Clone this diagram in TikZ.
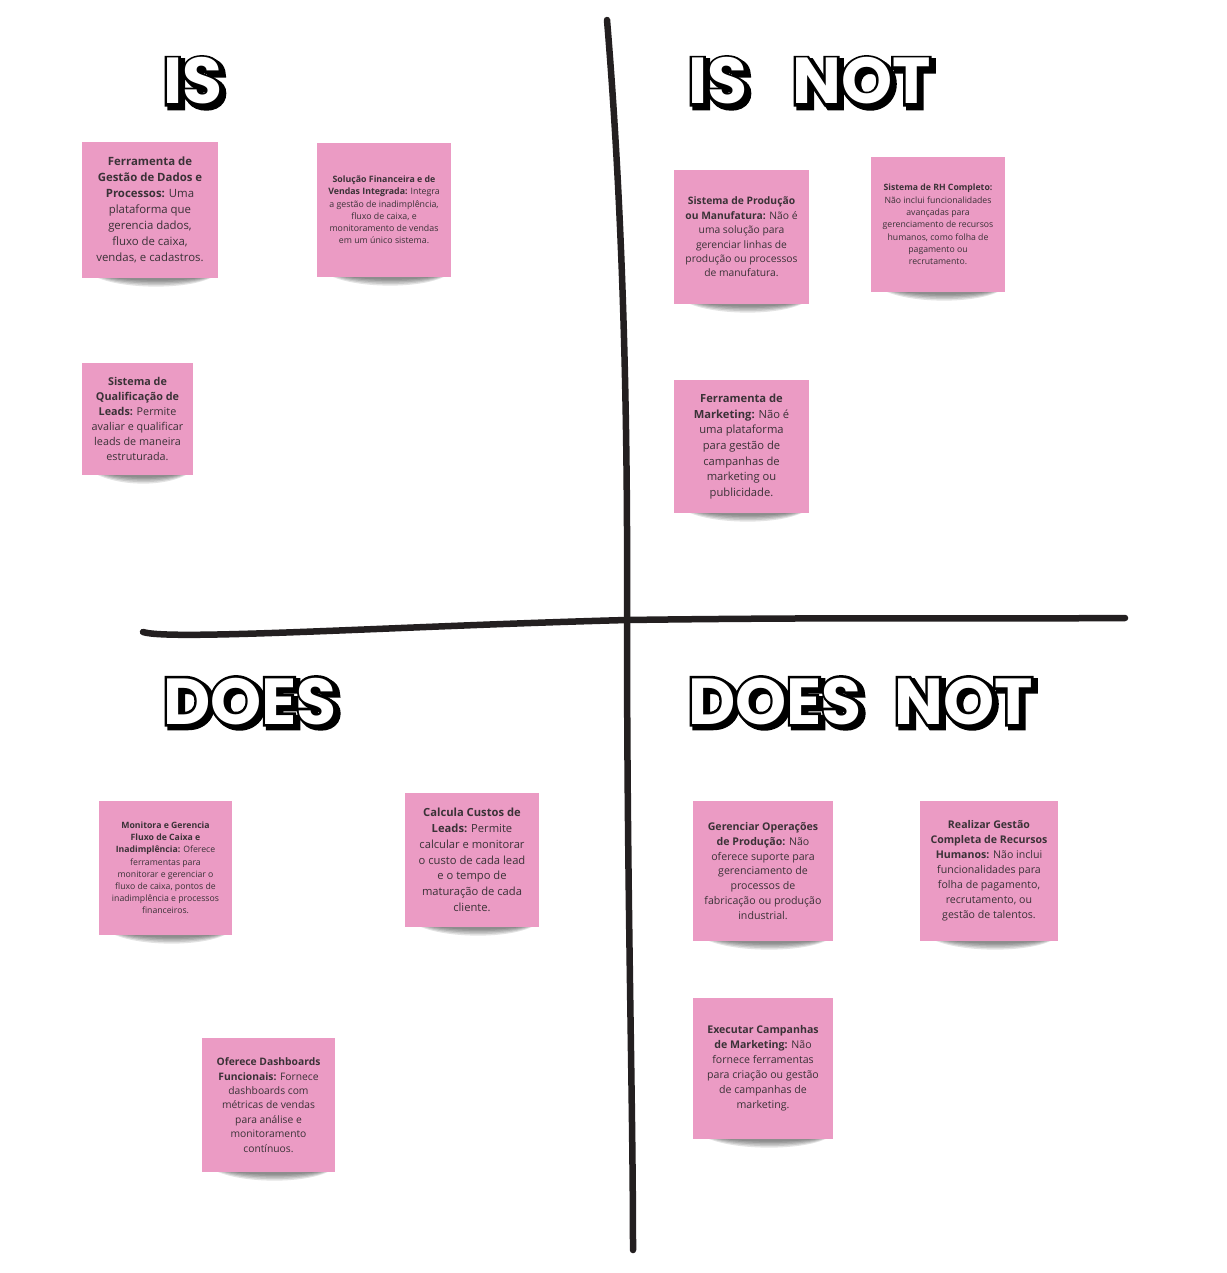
\documentclass[tikz,border=0pt]{standalone}
\usepackage{fontspec}
\newfontfamily\notefont{Open Sans}
\newfontfamily\headfont{Poppins}
\newfontfamily\headoutline{Poppins}[FakeBold=8]
\newfontfamily\headshadow{Poppins}[FakeBold=10]
\definecolor{notepink}{RGB}{235,155,196}
\definecolor{inkline}{RGB}{35,31,32}
\definecolor{notetext}{RGB}{58,50,55}
\tikzset{
  note/.style={fill=notepink, inner sep=0pt, align=center, text=notetext},
  headst/.style={anchor=base west, inner sep=0pt},
  bigline/.style={draw=inkline, line width=6.5pt, line cap=round}
}
\newcommand{\sticky}[8]{%
  \foreach \k in {0,...,4} {
    \fill[black,opacity=0.11] ({#2+10+2*\k},{#5-3}) .. controls ({#2+35},{#5+12-2*\k}) and ({#4-25},{#5+13-2*\k}) .. ({#4-2-\k},{#5-3}) -- cycle;
  }
  \node[note, minimum width={#4-#2}, minimum height={#5-#3}, font=\notefont\fontsize{#6}{#7}\selectfont] (#1) at ({(#2+#4)/2},{(#3+#5)/2}) {#8};
}
\newcommand{\heading}[4]{%
  \node[headst, text=black, font=\headshadow\bfseries\fontsize{65}{65}\selectfont] at ({#2+3.5},{#3+3}) {#4};
  \node[headst, text=black, font=\headoutline\bfseries\fontsize{65}{65}\selectfont] at (#2,#3) {#4};
  \node[headst, text=white, font=\headfont\bfseries\fontsize{65}{65}\selectfont] (#1) at (#2,#3) {#4};
}
\begin{document}
\begin{tikzpicture}[x=1pt,y=-1pt]
\fill[white] (0,0) rectangle (1226,1273);
\useasboundingbox (0,0) rectangle (1226,1273);

% axes
\coordinate (vt) at (607,20);
\coordinate (vm) at (627,620);
\coordinate (vb) at (633,1250);
\coordinate (hl) at (143,632);
\coordinate (hr) at (1125,618);
\draw[bigline] (vt) .. controls (622,200) and (628,400) .. (vm) .. controls (627,900) and (633,1100) .. (vb);
\draw[bigline] (hl) .. controls (170,641) and (400,626) .. (vm) .. controls (850,617) and (1000,619) .. (hr);

% headings
\heading{h1}{163}{104}{IS}
\heading{h2}{688}{104}{IS}
\heading{h3}{792}{104}{NOT}
\heading{h4}{163}{724}{DOES}
\heading{h5}{688}{724}{DOES}
\heading{h6}{894}{724}{NOT}

% IS
\sticky{n1}{82}{142}{218}{278}{11.4}{15.9}{\textbf{Ferramenta de}\\ \textbf{Gestão de Dados e}\\ \textbf{Processos:} Uma\\ plataforma que\\ gerencia dados,\\ fluxo de caixa,\\ vendas, e cadastros.}
\sticky{n2}{317}{143}{451}{277}{8.8}{12.2}{\textbf{Solução Financeira e de}\\ \textbf{Vendas Integrada:} Integra\\ a gestão de inadimplência,\\ fluxo de caixa, e\\ monitoramento de vendas\\ em um único sistema.}
\sticky{n3}{82}{363}{193}{475}{10.8}{15}{\textbf{Sistema de}\\ \textbf{Qualificação de}\\ \textbf{Leads:} Permite\\ avaliar e qualificar\\ leads de maneira\\ estruturada.}

% IS NOT
\sticky{n4}{674}{170}{809}{304}{10.3}{14.4}{\textbf{Sistema de Produção}\\ \textbf{ou Manufatura:} Não é\\ uma solução para\\ gerenciar linhas de\\ produção ou processos\\ de manufatura.}
\sticky{n5}{871}{157}{1005}{292}{8.7}{12.3}{\textbf{Sistema de RH Completo:}\\ Não inclui funcionalidades\\ avançadas para\\ gerenciamento de recursos\\ humanos, como folha de\\ pagamento ou\\ recrutamento.}
\sticky{n6}{674}{380}{809}{513}{11.2}{15.7}{\textbf{Ferramenta de}\\ \textbf{Marketing:} Não é\\ uma plataforma\\ para gestão de\\ campanhas de\\ marketing ou\\ publicidade.}

% DOES
\sticky{n7}{99}{801}{232}{935}{8.7}{12.2}{\textbf{Monitora e Gerencia}\\ \textbf{Fluxo de Caixa e}\\ \textbf{Inadimplência:} Oferece\\ ferramentas para\\ monitorar e gerenciar o\\ fluxo de caixa, pontos de\\ inadimplência e processos\\ financeiros.}
\sticky{n8}{405}{793}{539}{927}{11.2}{15.8}{\textbf{Calcula Custos de}\\ \textbf{Leads:} Permite\\ calcular e monitorar\\ o custo de cada lead\\ e o tempo de\\ maturação de cada\\ cliente.}
\sticky{n9}{202}{1038}{335}{1172}{10.3}{14.4}{\textbf{Oferece Dashboards}\\ \textbf{Funcionais:} Fornece\\ dashboards com\\ métricas de vendas\\ para análise e\\ monitoramento\\ contínuos.}

% DOES NOT
\sticky{n10}{693}{801}{833}{941}{10.6}{14.8}{\textbf{Gerenciar Operações}\\ \textbf{de Produção:} Não\\ oferece suporte para\\ gerenciamento de\\ processos de\\ fabricação ou produção\\ industrial.}
\sticky{n11}{920}{801}{1058}{941}{10.6}{15}{\textbf{Realizar Gestão}\\ \textbf{Completa de Recursos}\\ \textbf{Humanos:} Não inclui\\ funcionalidades para\\ folha de pagamento,\\ recrutamento, ou\\ gestão de talentos.}
\sticky{n12}{693}{998}{833}{1139}{10.6}{15}{\textbf{Executar Campanhas}\\ \textbf{de Marketing:} Não\\ fornece ferramentas\\ para criação ou gestão\\ de campanhas de\\ marketing.}
\end{tikzpicture}
\end{document}
